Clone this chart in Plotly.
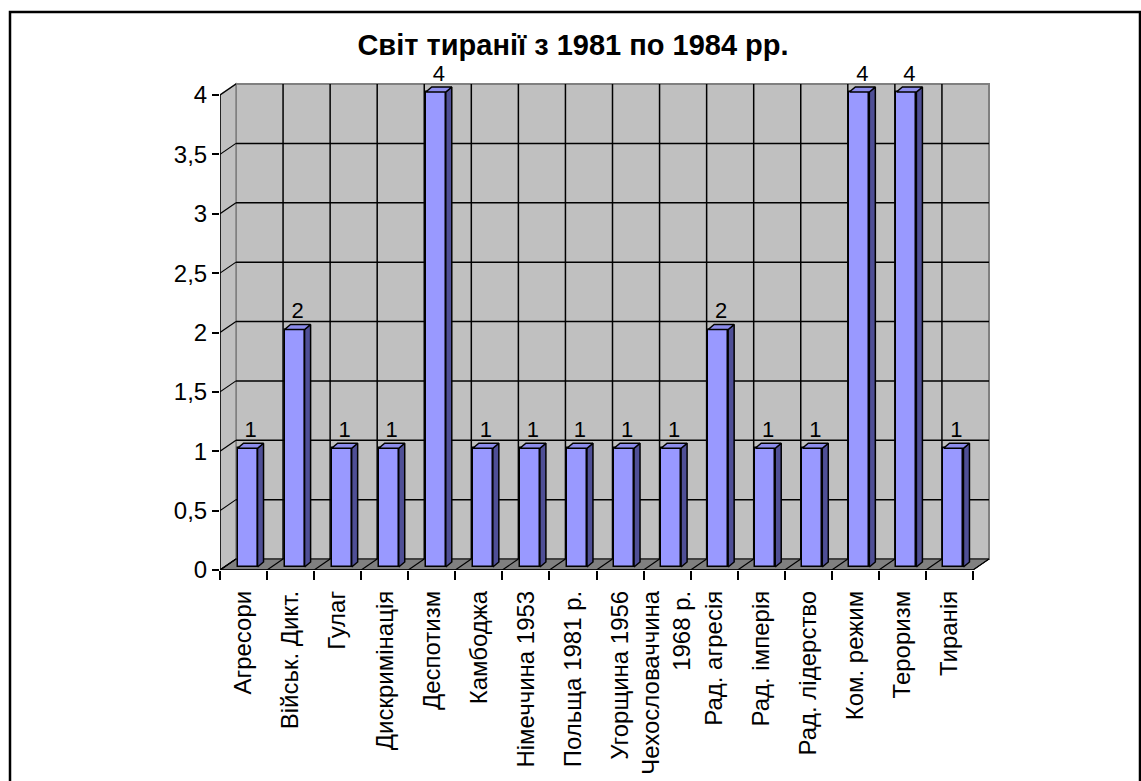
import plotly.graph_objects as go

# ---------------- data ----------------
title_text = "Світ тиранії з 1981 по 1984 рр."
categories = ["Агресори", "Військ. Дикт.", "Гулаг", "Дискримінація", "Деспотизм",
              "Камбоджа", "Німеччина 1953", "Польща 1981 р.", "Угорщина 1956",
              "Чехословаччина<br>1968 р.", "Рад. агресія", "Рад. імперія",
              "Рад. лідерство", "Ком. режим", "Тероризм", "Тиранія"]
values = [1, 2, 1, 1, 4, 1, 1, 1, 1, 1, 2, 1, 1, 4, 4, 1]
y_tick_vals = [0, 0.5, 1, 1.5, 2, 2.5, 3, 3.5, 4]
y_tick_text = ["0", "0,5", "1", "1,5", "2", "2,5", "3", "3,5", "4"]

# ---------------- geometry (layout only) ----------------
W, H = 1141, 781
PL, PR, PT, PB = 220, 990, 60, 570          # plot area in pixels
n = len(categories)
YMAX = max(y_tick_vals)
slot_px = (973 - 220) / n
unit_px = (570 - 95) / YMAX
x_range = [0, (PR - PL) / slot_px]
y_range = [0, (PB - PT) / unit_px]
DX, DY = 16 / slot_px, 11 / unit_px          # depth of walls/floor
BOX, BOY = 4 / slot_px, 3 / unit_px          # bar front offset
BW = 20 / slot_px                            # bar front width
BDX, BDY = 6 / slot_px, 5 / unit_px          # bar depth

FONT = "Liberation Sans, Arial, sans-serif"
WALL = "#C0C0C0"
FLOOR = "#808080"
EDGE = "#808080"
FRONT = "#9999FF"
SIDE = "#4F4F96"
TOP = "#8C8CEB"

fig = go.Figure()
shapes = []

# back wall
shapes.append(dict(type="rect", xref="x", yref="y", x0=DX, x1=n + DX, y0=DY, y1=YMAX + DY,
                   fillcolor=WALL, line=dict(color=EDGE, width=2), layer="below"))
# left side wall
shapes.append(dict(type="path", xref="x", yref="y",
                   path=f"M 0 0 L {DX} {DY} L {DX} {YMAX + DY} L 0 {YMAX} Z",
                   fillcolor=WALL, line=dict(color=EDGE, width=1.5), layer="below"))
# floor
shapes.append(dict(type="path", xref="x", yref="y",
                   path=f"M 0 0 L {n} 0 L {n + DX} {DY} L {DX} {DY} Z",
                   fillcolor=FLOOR, line=dict(color="black", width=1), layer="below"))
# back wall horizontal gridlines
for v in y_tick_vals[1:-1]:
    shapes.append(dict(type="line", xref="x", yref="y", x0=DX, x1=n + DX, y0=v + DY, y1=v + DY,
                       line=dict(color="black", width=1.5), layer="below"))
# back wall vertical gridlines
for k in range(1, n):
    shapes.append(dict(type="line", xref="x", yref="y", x0=k + DX, x1=k + DX, y0=DY, y1=YMAX + DY,
                       line=dict(color="black", width=1.5), layer="below"))
# side wall diagonals
for v in y_tick_vals:
    shapes.append(dict(type="line", xref="x", yref="y", x0=0, x1=DX, y0=v, y1=v + DY,
                       line=dict(color="black", width=1.2), layer="below"))
# floor diagonals
for k in range(0, n + 1):
    shapes.append(dict(type="line", xref="x", yref="y", x0=k, x1=k + DX, y0=0, y1=DY,
                       line=dict(color="black", width=1.2), layer="below"))
# front axis lines
shapes.append(dict(type="line", xref="x", yref="y", x0=0, x1=0, y0=0, y1=YMAX,
                   line=dict(color="black", width=1.5), layer="below"))
shapes.append(dict(type="line", xref="x", yref="y", x0=0, x1=n, y0=0, y1=0,
                   line=dict(color="black", width=1.5), layer="below"))

# outer chart border
pw, ph = PR - PL, PB - PT
shapes.append(dict(type="rect", xref="paper", yref="paper",
                   x0=(10 - PL) / pw, x1=(1140 - PL) / pw,
                   y0=(PB - 820) / ph, y1=(PB - 12) / ph,
                   line=dict(color="black", width=2.5), fillcolor="rgba(0,0,0,0)", layer="above"))

# ---------------- bars ----------------
centers = [i + 0.5 + BOX for i in range(n)]
fig.add_trace(go.Bar(x=centers, y=values, base=BOY, width=BW,
                     marker=dict(color=FRONT, line=dict(color="black", width=1.5)),
                     showlegend=False, hoverinfo="skip"))

sx, sy, tx, ty = [], [], [], []
for c, v in zip(centers, values):
    r = c + BW / 2
    l = c - BW / 2
    sx += [r, r + BDX, r + BDX, r, r, None]
    sy += [BOY, BOY + BDY, v + BOY + BDY, v + BOY, BOY, None]
    tx += [l, r, r + BDX, l + BDX, l, None]
    ty += [v + BOY, v + BOY, v + BOY + BDY, v + BOY + BDY, v + BOY, None]
fig.add_trace(go.Scatter(x=sx, y=sy, mode="lines", fill="toself", fillcolor=SIDE,
                         line=dict(color="black", width=1.5), showlegend=False, hoverinfo="skip"))
fig.add_trace(go.Scatter(x=tx, y=ty, mode="lines", fill="toself", fillcolor=TOP,
                         line=dict(color="black", width=1.5), showlegend=False, hoverinfo="skip"))

# data labels
fig.add_trace(go.Scatter(x=[c + BDX / 2 for c in centers],
                         y=[v + BOY + 17 / unit_px for v in values],
                         mode="text", text=[str(v) for v in values], textposition="middle center",
                         textfont=dict(family=FONT, size=22, color="black"),
                         cliponaxis=False, showlegend=False, hoverinfo="skip"))

fig.update_layout(
    width=W, height=H, autosize=False,
    margin=dict(l=PL, r=W - PR, t=PT, b=H - PB, pad=0, autoexpand=False),
    paper_bgcolor="white", plot_bgcolor="rgba(0,0,0,0)",
    shapes=shapes,
    title=dict(text=f"<b>{title_text}</b>", x=573 / W, xanchor="center",
               y=1 - 45 / H, yanchor="middle", yref="container", automargin=False,
               font=dict(family=FONT, size=29, color="black")),
    font=dict(family=FONT, color="black"),
    xaxis=dict(range=x_range, showgrid=False, zeroline=False, showline=False, automargin=False,
               tickmode="array", tickvals=[i + 0.5 for i in range(n)], ticktext=categories,
               tickangle=-90, ticks="", ticklabelstandoff=15, ticklabelshift=0,
               tickfont=dict(family=FONT, size=24, color="black"),
               minor=dict(ticks="outside", ticklen=9, tickcolor="black", tickwidth=1.5,
                          tick0=0, dtick=1, showgrid=False)),
    yaxis=dict(range=y_range, showgrid=False, zeroline=False, showline=False, automargin=False,
               tickmode="array", tickvals=y_tick_vals, ticktext=y_tick_text,
               ticks="outside", ticklen=7, tickcolor="black", tickwidth=1.5,
               tickfont=dict(family=FONT, size=24, color="black")),
    bargap=0,
)

fig.write_html("out.html", config={"displayModeBar": False},
               post_script="document.body.style.margin='0';")
